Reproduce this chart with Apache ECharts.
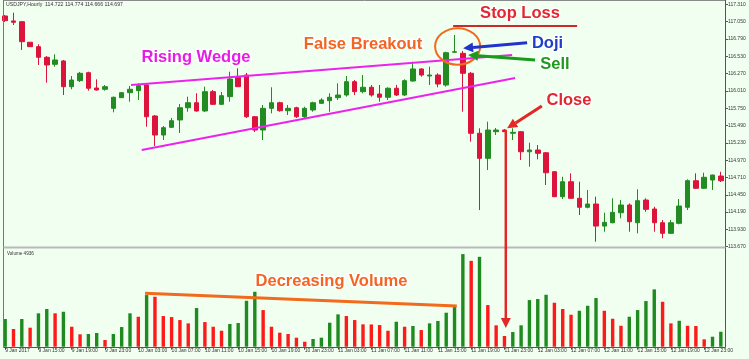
<!DOCTYPE html>
<html><head><meta charset="utf-8">
<script src="https://cdn.jsdelivr.net/npm/echarts@6/dist/echarts.min.js"></script>
<style>html,body{margin:0;padding:0;background:#f1fff0;}#chart{width:749px;height:359px;}</style>
</head><body><div id="chart"></div>
<script>
// ---- data ----
const openP = [117.135,117.060,117.049,116.740,116.674,116.514,116.409,116.459,116.073,116.163,
116.283,116.053,116.034,115.748,115.908,115.983,116.013,116.098,115.633,115.347,
115.463,115.573,115.757,115.832,115.708,115.998,115.808,115.923,116.214,116.248,
115.622,115.422,115.748,115.832,115.712,115.757,115.622,115.723,115.823,115.862,
115.908,115.948,116.148,115.998,116.064,115.963,115.914,116.049,115.948,116.158,
116.339,116.233,116.248,116.098,116.590,116.574,116.274,115.373,114.997,115.397,
115.422,115.373,115.397,115.096,115.122,115.081,114.796,114.421,114.646,114.397,
114.262,114.311,113.980,114.030,114.180,114.296,114.030,114.371,114.236,114.030,
113.871,114.021,114.262,114.661,114.547,114.671,114.731];
const closeP = [117.064,117.040,116.749,116.674,116.514,116.399,116.474,116.073,116.173,116.274,
116.049,116.023,116.073,115.914,115.983,116.034,116.088,115.622,115.347,115.457,
115.562,115.757,115.832,115.708,115.998,115.808,115.938,116.188,116.073,115.622,
115.422,115.748,115.832,115.712,115.748,115.622,115.748,115.832,115.873,115.914,
115.948,116.148,115.998,116.064,115.948,115.914,116.049,115.948,116.163,116.339,
116.248,116.248,116.113,116.583,116.598,116.274,115.373,114.997,115.422,115.422,
115.397,115.388,115.096,115.122,115.072,114.781,114.421,114.646,114.397,114.262,
114.311,113.980,114.036,114.186,114.296,114.045,114.361,114.231,114.030,113.871,
114.030,114.281,114.661,114.547,114.712,114.746,114.661];
const lowP = [117.045,116.999,116.624,116.669,116.399,116.133,116.373,115.948,116.034,116.143,
116.013,116.016,116.013,115.688,115.903,115.847,115.873,115.472,115.182,115.272,
115.452,115.377,115.697,115.697,115.693,115.798,115.798,115.847,116.068,115.603,
115.392,115.272,115.673,115.697,115.648,115.603,115.603,115.697,115.813,115.697,
115.873,115.923,115.948,115.974,115.923,115.847,115.873,115.933,115.933,116.148,
116.223,116.098,116.064,116.073,116.579,115.697,115.247,114.221,114.822,115.347,
115.392,115.272,114.972,114.871,114.982,114.596,114.416,114.386,114.386,114.146,
114.246,113.745,113.895,114.021,114.096,113.895,113.871,114.195,113.895,113.796,
113.860,114.006,114.221,114.536,114.536,114.521,114.641];
const highP = [117.150,117.184,117.060,116.744,116.710,116.534,116.559,116.474,116.233,116.294,
116.298,116.184,116.098,115.923,115.993,116.083,116.124,116.128,115.648,115.482,
115.603,115.813,115.923,115.974,116.073,116.023,115.993,116.298,116.349,116.279,
115.633,115.798,116.064,115.847,115.798,115.772,115.772,115.847,115.899,115.974,
116.124,116.233,116.173,116.248,116.098,116.098,116.064,116.098,116.184,116.448,
116.349,116.373,116.274,116.598,116.849,116.609,116.294,115.448,115.547,115.452,
115.437,115.448,115.407,115.232,115.197,115.092,114.807,114.721,114.772,114.646,
114.521,114.421,114.180,114.397,114.371,114.320,114.532,114.397,114.270,114.071,
114.071,114.386,114.682,114.772,114.781,114.751,114.796];
const volume = [5100,3260,5100,3500,6150,6940,6150,6440,3680,2280,
2340,2520,1230,2340,3620,6150,5520,9510,9200,5650,
5460,4910,4300,7120,4540,3680,2940,4180,4360,8460,
10120,6750,3680,2580,2340,1660,920,1420,1660,4420,
5960,5650,4910,4120,4100,3990,2940,4600,3680,3810,
3070,4300,4730,6260,7360,17060,15820,16560,7670,3940,
1970,2700,3940,8590,8780,9570,8100,6940,5890,6620,
7540,8960,6620,5150,3860,5520,6750,8410,10560,8280,
4300,4780,3860,3810,1360,1840,2760];
const priceTicks = [113.67,113.93,114.19,114.45,114.71,114.97,115.23,115.49,115.75,116.01,116.27,116.53,116.79,117.05,117.31];
const timeTickLabels = ["9 Jan 2017","9 Jan 15:00","9 Jan 19:00","9 Jan 23:00","10 Jan 03:00","10 Jan 07:00",
"10 Jan 11:00","10 Jan 15:00","10 Jan 19:00","10 Jan 23:00","11 Jan 03:00","11 Jan 07:00","11 Jan 11:00",
"11 Jan 15:00","11 Jan 19:00","11 Jan 23:00","12 Jan 03:00","12 Jan 07:00","12 Jan 11:00","12 Jan 15:00",
"12 Jan 19:00","12 Jan 23:00"];
const volumeMax = 17998;
const volumeTickLabels = ["0","17998"];
const headerText = "USDJPY,Hourly  114.722 114.774 114.666 114.697";
const volumeTitle = "Volume 4936";

// annotation anchors in data space: [bar index, price] / [bar index, volume]
const wedgeUpper = [[15.12,116.098],[60.92,116.549]];
const wedgeLower = [[16.41,115.122],[61.28,116.203]];
const stopLossLine = [[53.83,116.984],[68.73,116.984]];
const dojiArrow = [[62.72,116.734],[55.03,116.650]];
const sellArrow = [[63.68,116.474],[55.63,116.549]];
const closeArrow = [[64.49,115.783],[60.32,115.448]];
const exitArrow = {bar:60.16, price:115.422, volume:3445};
const breakoutCircle = [54.37,116.677];
const volumeTrend = [[16.81,9836],[54.27,7497]];

// categories (hourly bars starting 9 Jan 11:00)
const categories = openP.map((_, i) => { const h = 11 + i; return (9 + Math.floor(h/24)) + ' Jan ' + String(h%24).padStart(2,'0') + ':00'; });

const GREEN = '#228b22', RED = '#dc143c', VGREEN = '#1f8a1f', VRED = '#ff1a1a';
const FONT = '"Liberation Sans", Arial, sans-serif';

const option = {
  backgroundColor: '#f1fff0',
  animation: false,
  grid: [
    {left: 1, right: 24, top: 4.3, height: 242.4},
    {left: 1, right: 24, top: 249, height: 97.7}
  ],
  xAxis: [
    {type:'category', gridIndex:0, data:categories, boundaryGap:true,
     axisLine:{show:false}, axisTick:{show:false}, axisLabel:{show:false}, splitLine:{show:false}},
    {type:'category', gridIndex:1, data:categories, boundaryGap:true,
     axisLine:{show:false},
     axisTick:{show:true, interval:3, alignWithLabel:true, length:3, lineStyle:{color:'#555', width:1}},
     axisLabel:{interval:3, formatter:(v, i) => timeTickLabels[Math.round(i/4)] || '', fontSize:5, color:'#333',
       align:'left', margin:1.5, fontFamily:FONT},
     splitLine:{show:false}}
  ],
  yAxis: [
    {type:'value', gridIndex:0, position:'right', min:priceTicks[0], max:priceTicks[priceTicks.length-1], scale:true,
     axisLine:{show:false},
     axisTick:{show:true, customValues:priceTicks, length:3, lineStyle:{color:'#555'}},
     axisLabel:{customValues:priceTicks, formatter:v => v.toFixed(3), fontSize:5, color:'#333', margin:3, fontFamily:FONT},
     splitLine:{show:false}},
    {type:'value', gridIndex:1, position:'right', min:0, max:volumeMax,
     axisLine:{show:false}, axisTick:{show:false},
     axisLabel:{customValues:[volumeMax*0.035, volumeMax*0.972], formatter:(v, i) => volumeTickLabels[i],
       fontSize:5, color:'#333', margin:3, fontFamily:FONT},
     splitLine:{show:false}}
  ],
  series: [
    {type:'candlestick', xAxisIndex:0, yAxisIndex:0, barWidth:5,
     data: openP.map((o, i) => [o, closeP[i], lowP[i], highP[i]]),
     itemStyle:{color:GREEN, color0:RED, borderColor:GREEN, borderColor0:RED, borderWidth:1}},
    {type:'bar', xAxisIndex:1, yAxisIndex:1, barWidth:3.4,
     data: volume.map((v, i) => ({value:v, itemStyle:{color:(i === 0 || v >= volume[i-1]) ? VGREEN : VRED}}))}
  ]
};

const chart = echarts.init(document.getElementById('chart'));
chart.setOption(option);

const xPix = ci => { const a = Math.floor(ci), f = ci - a;
  const p0 = chart.convertToPixel({xAxisIndex:0}, a), p1 = chart.convertToPixel({xAxisIndex:0}, a + 1);
  return p0 + f * (p1 - p0); };
const yPrice = p => chart.convertToPixel({yAxisIndex:0}, p);
const yVol = v => chart.convertToPixel({yAxisIndex:1}, v);
const P = d => [xPix(d[0]), yPrice(d[1])];
const PV = d => [xPix(d[0]), yVol(d[1])];

const g = [];
function line(a, b, color, w, z) {
  g.push({type:'line', z:z || 100, shape:{x1:a[0], y1:a[1], x2:b[0], y2:b[1]}, style:{stroke:color, lineWidth:w, lineCap:'butt'}});
}
function arrow(from, tip, color, w, hl, hw) {
  const dx = tip[0] - from[0], dy = tip[1] - from[1], L = Math.hypot(dx, dy);
  const ux = dx / L, uy = dy / L, bx = tip[0] - ux * hl, by = tip[1] - uy * hl;
  line(from, [bx, by], color, w, 110);
  g.push({type:'polygon', z:111, shape:{points:[[tip[0], tip[1]], [bx - uy * hw, by + ux * hw], [bx + uy * hw, by - ux * hw]]},
    style:{fill:color}});
}
function label(text, x, y, color) {
  const font = 'bold 16.5px ' + FONT;
  g.push({type:'text', z:120, style:{text, x, y, font, align:'center', verticalAlign:'middle', textAlign:'center', textVerticalAlign:'middle',
    fill:'#ffffff', stroke:'#ffffff', lineWidth:3, shadowColor:'rgba(0,0,0,0.45)', shadowBlur:2, shadowOffsetX:1.2, shadowOffsetY:1.2}});
  g.push({type:'text', z:121, style:{text, x, y, font, align:'center', verticalAlign:'middle', textAlign:'center', textVerticalAlign:'middle', fill:color}});
}

// frame
line([3.5, 0.5], [725.5, 0.5], '#8a8a8a', 1, 50);
line([3.5, 0], [3.5, 347.5], '#777', 1, 50);
line([725.5, 0], [725.5, 347.5], '#555', 1, 50);
line([3.5, 247.5], [725.5, 247.5], '#b9b9b9', 2, 50);
line([3.5, 347.5], [725.5, 347.5], '#555', 1, 50);
g.push({type:'text', z:60, style:{text:headerText, x:6, y:5, font:'5.2px ' + FONT, fill:'#333', verticalAlign:'middle', textVerticalAlign:'middle'}});
g.push({type:'text', z:60, style:{text:volumeTitle, x:7, y:253.8, font:'4.6px ' + FONT, fill:'#333', verticalAlign:'middle', textVerticalAlign:'middle'}});

// wedge
line(P(wedgeUpper[0]), P(wedgeUpper[1]), '#ee22ee', 2);
line(P(wedgeLower[0]), P(wedgeLower[1]), '#ee22ee', 2);
// stop loss
line(P(stopLossLine[0]), P(stopLossLine[1]), '#cc2a2a', 2);
// false breakout circle
const cc = P(breakoutCircle);
g.push({type:'ellipse', z:100, shape:{cx:cc[0], cy:cc[1], rx:22.5, ry:18.3}, style:{fill:'none', stroke:'#f26a1b', lineWidth:2}});
// arrows
arrow(P(dojiArrow[0]), P(dojiArrow[1]), '#2233cc', 3, 10, 5);
arrow(P(sellArrow[0]), P(sellArrow[1]), '#1a9a1a', 3, 10, 5);
arrow(P(closeArrow[0]), P(closeArrow[1]), '#e32626', 3, 10, 5);
arrow([xPix(exitArrow.bar), yPrice(exitArrow.price)], [xPix(exitArrow.bar), yVol(exitArrow.volume)], '#e32626', 2.5, 10, 5);
// volume trend line
line(PV(volumeTrend[0]), PV(volumeTrend[1]), '#f26a1b', 3);

// labels
label('Rising Wedge', 196, 57, '#e51de5');
label('False Breakout', 363, 44.5, '#f26522');
label('Stop Loss', 520, 13.5, '#e3262f');
label('Doji', 547.5, 43.5, '#1f3fc8');
label('Sell', 555, 64, '#1e9a1e');
label('Close', 569, 100, '#e3262f');
label('Decreasing Volume', 331.5, 281.5, '#f26522');

chart.setOption({graphic: {elements: g}});
</script>
</body></html>
